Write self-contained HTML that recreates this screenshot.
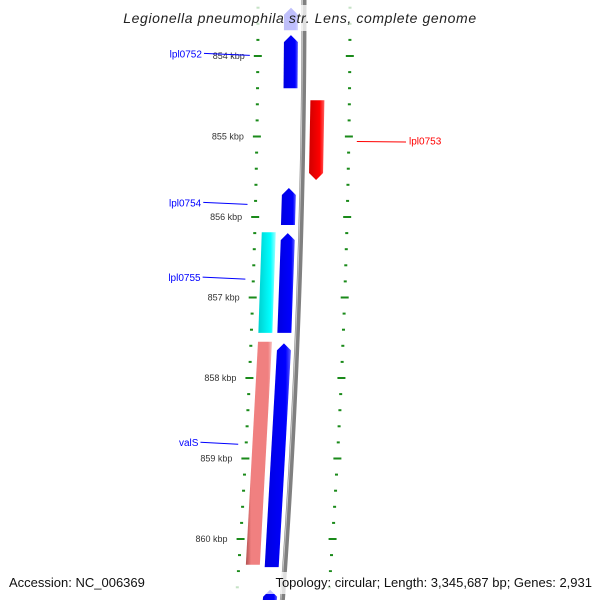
<!DOCTYPE html>
<html><head><meta charset="utf-8"><style>
html,body{margin:0;padding:0;background:#fff;}
svg{display:block;font-family:"Liberation Sans","DejaVu Sans",sans-serif;}
</style></head><body>
<svg id="map" width="600" height="600" viewBox="0 0 600 600" xmlns="http://www.w3.org/2000/svg">
<defs>
<linearGradient id="pinkg" x1="0" x2="1" y1="0" y2="0"><stop offset="0" stop-color="#b05050"/><stop offset="0.2" stop-color="#f08080"/><stop offset="0.85" stop-color="#f08080"/><stop offset="1" stop-color="#f8c0c0"/></linearGradient>
<linearGradient id="blueg" x1="0" x2="1" y1="0" y2="0"><stop offset="0" stop-color="#0000e0"/><stop offset="0.8" stop-color="#0000ff"/><stop offset="1" stop-color="#6060ff"/></linearGradient>
<linearGradient id="redg" x1="0" x2="1" y1="0" y2="0"><stop offset="0" stop-color="#d00000"/><stop offset="0.7" stop-color="#ff0000"/><stop offset="1" stop-color="#ff6060"/></linearGradient>
<linearGradient id="cyang" x1="0" x2="1" y1="0" y2="0"><stop offset="0" stop-color="#00d0d0"/><stop offset="0.7" stop-color="#00ffff"/><stop offset="1" stop-color="#a0ffff"/></linearGradient>
<linearGradient id="grayg" x1="0" x2="1" y1="0" y2="0"><stop offset="0" stop-color="#c0c0c0"/><stop offset="0.4" stop-color="#808080"/><stop offset="1" stop-color="#606060"/></linearGradient>
</defs>
<g id="layer"></g>
</svg>
<script>
const tickMajorKbp = [854, 855, 856, 857, 858, 859, 860];
const geneNames = ["g0", "lpl0752", "lpl0753", "lpl0754", "lpl0755", "lpl0755-other", "valS", "valS-other", "g-bottom"];
const geneStart = [853.40, 853.74, 854.55, 855.64, 856.20, 856.19, 857.57, 857.55, 860.63];
const geneEnd   = [853.68, 854.40, 855.54, 856.10, 857.44, 857.44, 860.35, 860.32, 860.90];
const geneTrack = ["fwd", "fwd", "rev", "fwd", "fwd", "other", "fwd", "other", "fwd"];
const geneFill  = ["blue", "blue", "red", "blue", "blue", "cyan", "blue", "pink", "blue"];
const labels = ["lpl0752", "lpl0753", "lpl0754", "lpl0755", "valS"];
const labelKbp = [853.98, 855.05, 855.83, 856.76, 858.81];
const labelColor = ["#0000ff", "#ff0000", "#0000ff", "#0000ff", "#0000ff"];
const labelSide = ["left", "right", "left", "left", "left"];

const NS = "http://www.w3.org/2000/svg";
const layer = document.getElementById('layer');
const yOf = k => 56 + (k - 854) * 80.5;
const dx = y => -6e-5 * y * y;
const trackX = {fwd: [284, 298], rev: [311, 325], other: [265, 279]};
function mk(tag, attrs, parent) {
  const e = document.createElementNS(NS, tag);
  for (const k in attrs) e.setAttribute(k, attrs[k]);
  (parent || layer).appendChild(e);
  return e;
}
// backbone
{
  let pts = [];
  for (let y = -5; y <= 605; y += 10) pts.push([304 + dx(y), y]);
  const p = mk('polyline', {points: pts.map(p => p.join(',')).join(' '), fill: 'none', stroke: '#808080', 'stroke-width': 5});
  
  
  const p2 = mk('polyline', {points: pts.map(p => (p[0]-1.5)+','+p[1]).join(' '), fill: 'none', stroke: '#c8c8c8', 'stroke-width': 1});
  
  
}
// ticks
for (let b = 853200; b <= 861000; b += 200) {
  const k = b / 1000;
  const y = yOf(k);
  if (y < -5 || y > 605) continue;
  const major = (b % 1000 === 0);
  [258, 350].forEach((bx, side) => {
    const x = bx + dx(y);
    const w = major ? 8 : 3;
    const r = mk('rect', {x: x - w / 2, y: y - 1, width: w, height: 2, fill: '#1a8a1a'});
    
    
  });
}
tickMajorKbp.forEach(k => {
  const y = yOf(k);
  const t = mk('text', {x: 245 + dx(y), y: y + 3, 'text-anchor': 'end', 'font-size': 9, fill: '#333'});
  t.textContent = k + ' kbp';
  
  
});
// genes
geneNames.forEach((n, i) => {
  const y1 = yOf(geneStart[i]), y2 = yOf(geneEnd[i]);
  const [a, b] = trackX[geneTrack[i]];
  const A = 7;
  let pts;
  const d1 = dx(y1), d2 = dx(y2), m = (a + b) / 2;
  if (geneTrack[i] === 'fwd') {
    pts = [[m + d1, y1], [b + d1, y1 + A], [b + d2, y2], [a + d2, y2], [a + d1, y1 + A]];
  } else if (geneTrack[i] === 'rev') {
    pts = [[a + d1, y1], [b + d1, y1], [b + d2, y2 - A], [m + d2, y2], [a + d2, y2 - A]];
  } else {
    pts = [[a + d1, y1], [b + d1, y1], [b + d2, y2], [a + d2, y2]];
  }
  const g = mk('polygon', {points: pts.map(p => p.join(',')).join(' '), fill: 'url(#' + geneFill[i] + 'g)'});
  
  
});
// labels
labels.forEach((l, i) => {
  const y = yOf(labelKbp[i]);
  let line, t;
  if (labelSide[i] === 'left') {
    line = mk('line', {x1: 204 + dx(y) * 0.3, y1: y - 1, x2: 250 + dx(y), y2: y + 1, stroke: labelColor[i], 'stroke-width': 1});
    t = mk('text', {x: 202 + dx(y) * 0.3, y: y + 3, 'text-anchor': 'end', 'font-size': 10, fill: labelColor[i]});
  } else {
    line = mk('line', {x1: 358 + dx(y), y1: y + 1, x2: 406, y2: y + 1.5, stroke: labelColor[i], 'stroke-width': 1});
    t = mk('text', {x: 409, y: y + 4, 'font-size': 10, fill: labelColor[i]});
  }
  
  
  t.textContent = l;
  
  
});
// title band + text
{
  const r = mk('rect', {x: 115, y: 5, width: 370, height: 26, fill: '#fff', 'fill-opacity': 0.75});
  
  
  const t = mk('text', {x: 300, y: 23, 'text-anchor': 'middle', 'font-size': 14, 'font-style': 'italic', fill: '#222', 'letter-spacing': 0.6});
  t.textContent = 'Legionella pneumophila str. Lens, complete genome';
  
  
  const r2 = mk('rect', {x: 0, y: 572, width: 600, height: 22, fill: '#fff', 'fill-opacity': 0.75});
  
  
  const a = mk('text', {x: 9, y: 587, 'font-size': 13, fill: '#111'});
  a.textContent = 'Accession: NC_006369';
  
  
  const b = mk('text', {x: 592, y: 587, 'text-anchor': 'end', 'font-size': 13, fill: '#111'});
  b.textContent = 'Topology: circular; Length: 3,345,687 bp; Genes: 2,931';
  
  
}
</script>
</body></html>
